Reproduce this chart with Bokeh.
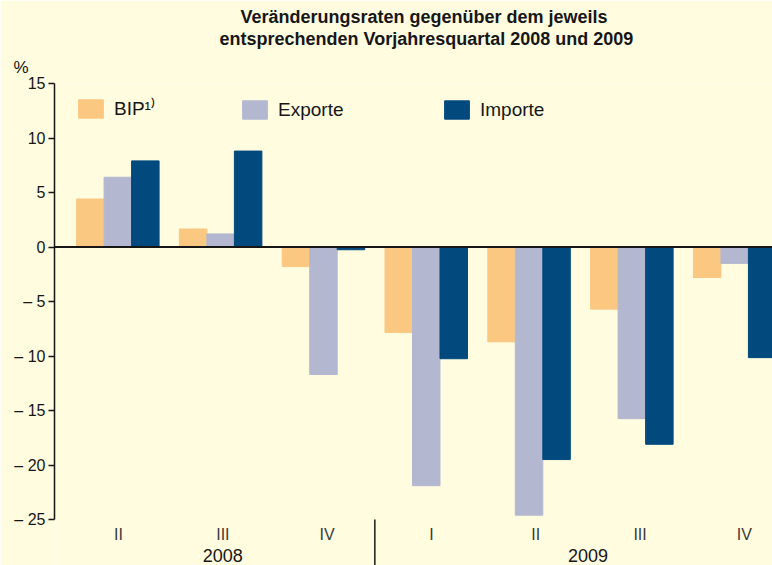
from bokeh.plotting import figure
from bokeh.models import (ColumnDataSource, Title, Span, FixedTicker, Legend, LegendItem)
from bokeh.embed import file_html
from bokeh.resources import INLINE

quarters = ["II", "III", "IV", "I", "II", "III", "IV"]
quarter_year = ["2008", "2008", "2008", "2009", "2009", "2009", "2009"]
years = ["2008", "2009"]
bip = [4.4, 1.65, -1.8, -7.85, -8.7, -5.7, -2.8]
exporte = [6.4, 1.2, -11.7, -21.9, -24.6, -15.75, -1.5]
importe = [7.9, 8.8, -0.25, -10.25, -19.5, -18.1, -10.15]
y_ticks = [-25, -20, -15, -10, -5, 0, 5, 10, 15]
series_labels = ["BIP\u00b9\u207e", "Exporte", "Importe"]

BG = "#FFFCE0"
FONT = "Liberation Sans"
C_BIP = "#FBC882"
C_EXP = "#B3B8D0"
C_IMP = "#02497E"
INK = "#161616"

Y_MIN, Y_MAX = -25, 15
Y_BOTTOM = -29.22

p = figure(width=772, height=565, output_backend="svg", toolbar_location=None,
           x_range=(-0.616, 6.368), y_range=(Y_BOTTOM, Y_MAX),
           x_axis_location=None,
           min_border_left=54, min_border_right=0, min_border_top=83, min_border_bottom=0)
p.background_fill_color = BG
p.border_fill_color = BG
p.outline_line_color = None
p.xgrid.visible = False
p.ygrid.visible = False

idx = list(range(len(quarters)))
w = 0.2675
src = ColumnDataSource(dict(
    x_bip=[i - w for i in idx], x_exp=idx, x_imp=[i + w for i in idx],
    bip=bip, exporte=exporte, importe=importe))

r1 = p.vbar(x="x_bip", top="bip", bottom=0, width=w, color=C_BIP, source=src)
r2 = p.vbar(x="x_exp", top="exporte", bottom=0, width=w, color=C_EXP, source=src)
r3 = p.vbar(x="x_imp", top="importe", bottom=0, width=w, color=C_IMP, source=src)

p.add_layout(Span(location=0, dimension="width", line_color=INK, line_width=2))

# y axis
ya = p.yaxis[0]
ya.ticker = FixedTicker(ticks=y_ticks)
ya.bounds = (Y_MIN, Y_MAX)
ya.major_label_overrides = {t: (("\u2013 " + str(-t)) if t < 0 else str(t)) for t in y_ticks}
ya.axis_line_color = INK
ya.axis_line_width = 1.5
ya.major_tick_line_color = INK
ya.major_tick_line_width = 1.5
ya.major_tick_in = 0
ya.major_tick_out = 6
ya.minor_tick_line_color = None
ya.major_label_text_font = FONT
ya.major_label_text_font_size = "16px"
ya.major_label_text_color = INK
ya.major_label_standoff = 3

# category labels below the plot (inside the extended frame)
label_stretch = 1.0146
lab_x = [0.007 + i * label_stretch for i in idx]
lab_src = ColumnDataSource(dict(x=lab_x, y=[Y_MIN - 1.38] * len(idx), text=quarters))
p.text(x="x", y="y", text="text", source=lab_src, text_align="center", text_baseline="middle",
       text_font={"value": FONT}, text_font_size="16px", text_color="#3a3a3a")

year_x = [sum(x for x, q in zip(lab_x, quarter_year) if q == yr) / quarter_year.count(yr) for yr in years]
yr_src = ColumnDataSource(dict(x=year_x, y=[Y_MIN - 3.3] * len(years), text=years))
p.text(x="x", y="y", text="text", source=yr_src, text_align="center", text_baseline="middle",
       text_font={"value": FONT}, text_font_size="18px", text_color=INK)

sep_x = quarter_year.count(years[0]) - 0.5
p.segment(x0=[sep_x], y0=[Y_MIN], x1=[sep_x], y1=[Y_BOTTOM], line_color=INK, line_width=1.5)

# titles
p.add_layout(Title(text="%", align="left", offset=-41, standoff=14, text_font=FONT,
                   text_font_size="17px", text_font_style="normal", text_color=INK), "above")
p.add_layout(Title(text="entsprechenden Vorjahresquartal 2008 und 2009", align="left", offset=165,
                   standoff=0, text_font=FONT, text_font_size="18px", text_font_style="bold",
                   text_color=INK), "above")
p.add_layout(Title(text="Veränderungsraten gegenüber dem jeweils", align="left", offset=186,
                   standoff=0, text_font=FONT, text_font_size="18px", text_font_style="bold",
                   text_color=INK), "above")

# legends (one per item for exact placement)
frame_h = 565 - 83
for r, lab, lx in zip([r1, r2, r3], series_labels, [21, 185, 387]):
    lg = Legend(items=[LegendItem(label=lab, renderers=[r])], location=(lx, frame_h - 15 - 23),
                glyph_width=31, glyph_height=23, label_standoff=8, padding=0, margin=0,
                border_line_color=None, background_fill_alpha=0,
                label_text_font=FONT, label_text_font_size="19px", label_text_color=INK)
    p.add_layout(lg)

open("out.html", "w").write(file_html(p, INLINE))
